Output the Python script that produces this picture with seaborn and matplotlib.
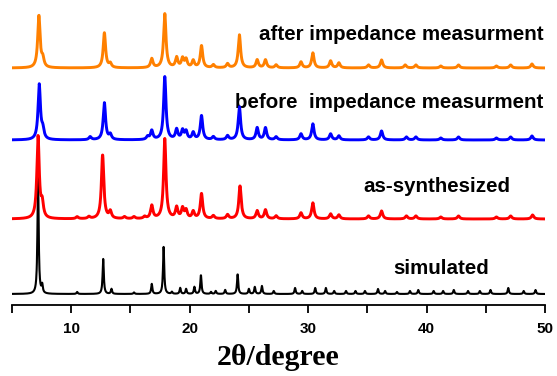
import numpy as np
import pandas as pd
import matplotlib
matplotlib.use("Agg")
import matplotlib.pyplot as plt
import seaborn as sns

# ---- data (peak positions in 2theta, heights in arbitrary units) ----
sim_pos = [7.2, 7.55, 10.5, 12.7, 13.4, 15.3, 16.8, 17.8, 18.5, 19.2, 19.7, 20.4, 20.95,
           21.8, 22.2, 23.0, 24.05, 25.0, 25.5, 26.1, 27.1, 28.9, 29.5, 30.6, 31.5, 32.2,
           33.2, 34.0, 34.8, 35.9, 36.5, 37.5, 38.6, 39.3, 40.6, 41.4, 42.3, 43.5, 44.5,
           45.4, 46.9, 48.2, 49.2]
sim_h = [118, 8, 2, 35, 5, 1.5, 10, 47, 2, 6, 5, 7, 19,
         2, 3, 4, 20, 5, 7, 8, 3, 6, 3, 6, 6, 3,
         3, 3, 3, 5, 3, 2, 3, 4, 3, 3, 4, 3, 3,
         4, 6, 3, 4]

syn_pos = [7.2, 7.55, 10.5, 11.5, 12.65, 13.3, 14.5, 15.3, 16.2, 16.8, 17.9, 18.9, 19.4,
           19.7, 20.3, 21.0, 22.0, 23.2, 24.25, 25.7, 26.4, 27.3, 29.4, 30.4, 31.9, 32.6,
           35.1, 36.2, 38.3, 39.1, 41.2, 42.7, 45.9, 47.1, 48.95]
syn_h = [82, 14, 2, 2, 64, 7, 2, 2, 2, 13, 80, 11, 10,
         8, 7, 25, 3, 4, 33, 8, 9, 3, 6, 16, 5, 4,
         3, 8, 3, 3, 2, 3, 2, 3, 4]

bef_pos = [7.3, 7.6, 11.6, 12.8, 13.3, 16.45, 16.8, 17.9, 18.9, 19.4, 19.7, 20.3, 21.0,
           22.0, 23.2, 24.2, 25.7, 26.4, 27.3, 29.4, 30.4, 31.9, 32.6, 35.1, 36.2, 38.3,
           39.1, 41.2, 42.7, 45.9, 47.1, 48.9]
bef_h = [55, 9, 3, 37, 5, 3, 9, 63, 10, 9, 8, 7, 24,
         3, 4, 33, 12, 12, 3, 6, 16, 6, 4, 3, 9, 3,
         3, 2, 3, 2, 3, 4]

aft_pos = [7.27, 7.6, 12.8, 13.3, 16.8, 17.9, 18.9, 19.4, 19.7, 20.3, 21.0, 22.0, 23.2,
           24.2, 25.7, 26.4, 27.3, 29.4, 30.4, 31.9, 32.6, 35.1, 36.2, 38.2, 39.1, 41.2,
           42.7, 45.9, 47.1, 48.9]
aft_h = [52, 8, 35, 4, 9, 54, 10, 9, 8, 7, 22, 3, 4,
         33, 8, 8, 3, 6, 15, 7, 5, 3, 8, 3, 3, 2,
         3, 2, 3, 4]

labels = ["simulated", "as-synthesized", "before  impedance measurment",
          "after impedance measurment"]
colors = ["#000000", "#FF0000", "#0000FF", "#FF8000"]
offsets = [0, 75, 154, 226]
tick_vals = [5, 10, 15, 20, 25, 30, 35, 40, 45, 50]
tick_labels = ["", "10", "", "20", "", "30", "", "40", "", "50"]


def profile(x, pos, h, w):
    y = np.zeros_like(x)
    for p, hi in zip(pos, h):
        y += hi / (1.0 + ((x - p) / w) ** 2)
    return y


x = np.arange(5.0, 50.0001, 0.02)
series = [(sim_pos, sim_h, 0.06), (syn_pos, syn_h, 0.12),
          (bef_pos, bef_h, 0.12), (aft_pos, aft_h, 0.12)]
frames = []
for (pos, h, w), lab, off in zip(series, labels, offsets):
    frames.append(pd.DataFrame({"twotheta": x,
                                "intensity": profile(x, pos, h, w) + off,
                                "sample": lab}))
df = pd.concat(frames, ignore_index=True)

sns.set_style("ticks")
plt.rcParams["font.family"] = ["Liberation Sans", "DejaVu Sans"]
plt.rcParams["text.color"] = "black"
plt.rcParams["axes.labelcolor"] = "black"
plt.rcParams["xtick.color"] = "black"
plt.rcParams["axes.edgecolor"] = "black"

fig = plt.figure(figsize=(5.57, 3.76), dpi=100)
ax = fig.add_axes([12 / 557, 71 / 376, 533 / 557, 305 / 376])

order = [1, 0, 2, 3]
lws = [1.5, 2.1, 2.1, 2.1]
for i in order:
    sub = df[df["sample"] == labels[i]]
    sns.lineplot(data=sub, x="twotheta", y="intensity", color=colors[i],
                 linewidth=lws[i], estimator=None, sort=False, ax=ax, zorder=2 + i)

ax.set_xlim(5, 50)
ax.set_ylim(-11, 294)
ax.set_xticks(tick_vals)
ax.set_xticklabels(tick_labels, fontsize=11, fontweight="bold", color="black")
ax.set_yticks([])
ax.set_ylabel("")
ax.set_xlabel("2θ/degree", fontsize=21.5, fontweight="bold", color="black",
              family=["Liberation Serif", "DejaVu Serif"], labelpad=6)
sns.despine(ax=ax, left=True, top=True, right=True)
ax.spines["bottom"].set_linewidth(1.3)
ax.spines["bottom"].set_color("black")
ax.tick_params(axis="x", direction="out", length=6, width=1.3, pad=6, colors="black")

tfs = 14.8
ax.text(49.85, 259, labels[3], ha="right", va="center", fontsize=tfs, fontweight="bold", color="black")
ax.text(49.85, 191, labels[2], ha="right", va="center", fontsize=tfs, fontweight="bold", color="black")
ax.text(40.9, 108, labels[1], ha="center", va="center", fontsize=tfs, fontweight="bold", color="black")
ax.text(41.2, 26, labels[0], ha="center", va="center", fontsize=tfs, fontweight="bold", color="black")

fig.savefig("out.png", dpi=100)
